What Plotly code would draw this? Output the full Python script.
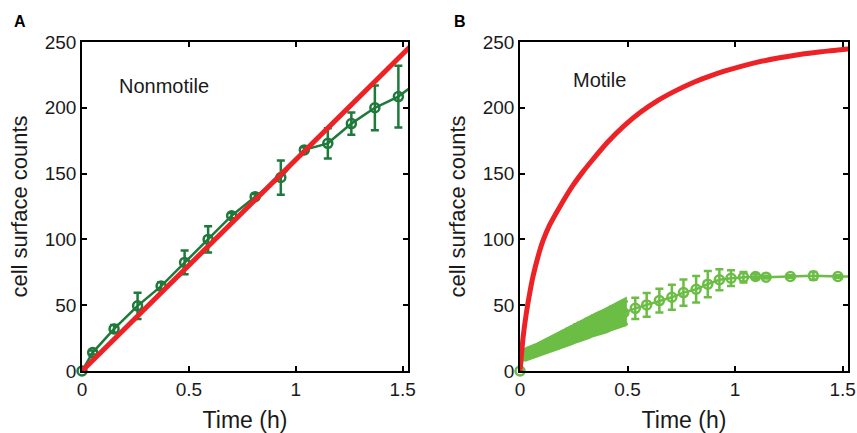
import plotly.graph_objects as go

# ---------------- Data ----------------
# Panel A (Nonmotile)
a_time = [0, 0.05, 0.15, 0.26, 0.37, 0.48, 0.59, 0.70, 0.81, 0.93, 1.04, 1.15, 1.26, 1.37, 1.48]
a_counts = [0, 14, 32, 49.5, 64.5, 82.5, 100, 118, 132.5, 147, 168, 173, 188, 200, 208.5]
a_err = [0, 1.5, 3, 10, 3, 9, 10, 2, 2, 13, 2, 11.5, 8.5, 17, 23.5]
a_tail_time = [1.48, 1.59]
a_tail_counts = [208.5, 222]
a_model_time = [0, 1.6]
a_model_counts = [0, 257]

# Panel B (Motile) - densely sampled early part
b_dense_time = [0.017, 0.033, 0.05, 0.067, 0.083, 0.1, 0.117, 0.133, 0.15, 0.167, 0.183, 0.2,
                0.217, 0.233, 0.25, 0.267, 0.283, 0.3, 0.317, 0.333, 0.35, 0.367, 0.383, 0.4,
                0.417, 0.433, 0.45, 0.467, 0.483]
b_dense_counts = [12.0, 13.4, 14.5, 15.4, 16.4, 17.4, 18.4, 19.4, 20.5, 21.7, 23.0, 24.4,
                  25.6, 27.0, 28.1, 29.5, 30.6, 31.8, 33.0, 34.2, 35.3, 36.4, 37.3, 38.4,
                  39.6, 40.8, 42.0, 43.1, 44.3]
b_dense_err = [3, 3, 3, 3, 3, 3.5, 3.5, 4, 4, 4.5, 4.5, 5,
               5, 5.5, 5.5, 6, 6, 6, 6.5, 6.5, 7, 7, 7, 7.5,
               7.5, 8, 8, 8.5, 8.5]
# Panel B - sparse later part
b_sparse_time = [0.536, 0.589, 0.648, 0.706, 0.76, 0.819, 0.873, 0.927, 0.981, 1.039, 1.095,
                 1.144, 1.257, 1.364, 1.478]
b_sparse_counts = [47.6, 50.2, 53.5, 56.0, 59.6, 62.1, 66.0, 69.3, 70.5, 71.3, 71.8,
                   71.3, 71.8, 72.3, 71.8]
b_sparse_err = [8, 9, 9, 9.5, 10, 10, 10, 8, 6, 4, 2, 1, 1, 3, 1]
b_start_time = [0]
b_start_counts = [0]
b_tail_time = [1.478, 1.59]
b_tail_counts = [71.8, 72]
b_model_time = [0, 0.006, 0.014, 0.029, 0.045, 0.06, 0.084, 0.107, 0.138, 0.184, 0.246, 0.293,
                0.33, 0.408, 0.485, 0.563, 0.64, 0.718, 0.795, 0.873, 0.95, 1.028, 1.1, 1.2,
                1.3, 1.4, 1.53]
b_model_counts = [0, 11, 25, 43.5, 59, 71.5, 87, 99, 111, 124.5, 141, 151.5,
                  159, 174, 186.5, 197, 205.5, 212.5, 218.5, 223.5, 227.8, 231.5, 234.5, 237.8,
                  240.5, 242.6, 244.8]

x_ticks = [0, 0.5, 1, 1.5]
x_tick_labels = ["0", "0.5", "1", "1.5"]
y_ticks = [0, 50, 100, 150, 200, 250]

# ---------------- Styles ----------------
DARK_GREEN = "#1d7a3b"
LIGHT_GREEN = "#6cbd45"
RED = "#ec2227"
TXT = "#1a1a1a"
FONT = "Liberation Sans, Arial, Helvetica, sans-serif"
W, H = 857, 433

fig = go.Figure()

# ---- Panel A ----
fig.add_trace(go.Scatter(x=a_tail_time, y=a_tail_counts, mode="lines",
                         line=dict(color=DARK_GREEN, width=2.5), cliponaxis=True,
                         xaxis="x", yaxis="y", showlegend=False, hoverinfo="skip"))
fig.add_trace(go.Scatter(x=a_time, y=a_counts, mode="lines+markers",
                         line=dict(color=DARK_GREEN, width=2.5),
                         marker=dict(symbol="circle-open", size=9, color=DARK_GREEN,
                                     line=dict(width=2.5, color=DARK_GREEN)),
                         error_y=dict(type="data", array=a_err, color=DARK_GREEN,
                                      thickness=2.5, width=4),
                         cliponaxis=False, xaxis="x", yaxis="y", showlegend=False))
fig.add_trace(go.Scatter(x=a_model_time, y=a_model_counts, mode="lines",
                         line=dict(color=RED, width=5), cliponaxis=True,
                         xaxis="x", yaxis="y", showlegend=False))

# ---- Panel B ----
# filled envelope of the dense error bars (built from the dense arrays)
band_x = b_dense_time + b_dense_time[::-1]
band_y = [c + e for c, e in zip(b_dense_counts, b_dense_err)] + \
         [c - e for c, e in zip(b_dense_counts, b_dense_err)][::-1]
fig.add_trace(go.Scatter(x=band_x, y=band_y, mode="lines", fill="toself",
                         fillcolor=LIGHT_GREEN, line=dict(color=LIGHT_GREEN, width=6),
                         xaxis="x2", yaxis="y2", showlegend=False, hoverinfo="skip"))
fig.add_trace(go.Scatter(x=b_tail_time, y=b_tail_counts, mode="lines",
                         line=dict(color=LIGHT_GREEN, width=2.5), cliponaxis=True,
                         xaxis="x2", yaxis="y2", showlegend=False, hoverinfo="skip"))
all_b_time = b_start_time + b_dense_time + b_sparse_time
all_b_counts = b_start_counts + b_dense_counts + b_sparse_counts
all_b_err = [0] + b_dense_err + b_sparse_err
fig.add_trace(go.Scatter(x=all_b_time, y=all_b_counts, mode="lines+markers",
                         line=dict(color=LIGHT_GREEN, width=2.5),
                         marker=dict(symbol="circle-open", size=9, color=LIGHT_GREEN,
                                     line=dict(width=2.5, color=LIGHT_GREEN)),
                         error_y=dict(type="data", array=all_b_err, color=LIGHT_GREEN,
                                      thickness=2.5, width=4),
                         cliponaxis=False, xaxis="x2", yaxis="y2", showlegend=False))
fig.add_trace(go.Scatter(x=b_model_time, y=b_model_counts, mode="lines",
                         line=dict(color=RED, width=5, shape="spline", smoothing=0.6),
                         cliponaxis=True, xaxis="x2", yaxis="y2", showlegend=False))

axis_common = dict(
    showline=True, linecolor="black", linewidth=1.5, mirror="ticks",
    ticks="inside", ticklen=5, tickwidth=1.5, tickcolor="black",
    showgrid=False, zeroline=False, automargin=False,
    tickfont=dict(family=FONT, size=19, color=TXT),
)


def xaxis(dom, anchor):
    return dict(axis_common, domain=dom, anchor=anchor, range=[0, 1.525],
                tickvals=x_ticks, ticktext=x_tick_labels,
                title=dict(text="Time (h)", font=dict(family=FONT, size=23, color=TXT),
                           standoff=14))


def yaxis(dom, anchor):
    return dict(axis_common, domain=dom, anchor=anchor, range=[0, 250],
                tickvals=y_ticks,
                title=dict(text="cell surface counts",
                           font=dict(family=FONT, size=22, color=TXT), standoff=11))


fig.update_layout(
    width=W, height=H,
    margin=dict(l=0, r=0, t=0, b=0, autoexpand=False),
    paper_bgcolor="white", plot_bgcolor="white",
    xaxis=xaxis([82 / W, 408 / W], "y"),
    yaxis=yaxis([(H - 371) / H, (H - 42) / H], "x"),
    xaxis2=xaxis([520 / W, 848 / W], "y2"),
    yaxis2=yaxis([(H - 371) / H, (H - 42) / H], "x2"),
    annotations=[
        dict(text="<b>A</b>", x=12 / W, y=1 - 22 / H, xref="paper", yref="paper",
             xanchor="left", yanchor="middle", showarrow=False,
             font=dict(family=FONT, size=16, color="black")),
        dict(text="<b>B</b>", x=452 / W, y=1 - 22 / H, xref="paper", yref="paper",
             xanchor="left", yanchor="middle", showarrow=False,
             font=dict(family=FONT, size=16, color="black")),
        dict(text="Nonmotile", x=117 / W, y=1 - 86 / H, xref="paper", yref="paper",
             xanchor="left", yanchor="middle", showarrow=False,
             font=dict(family=FONT, size=20, color=TXT)),
        dict(text="Motile", x=571 / W, y=1 - 80 / H, xref="paper", yref="paper",
             xanchor="left", yanchor="middle", showarrow=False,
             font=dict(family=FONT, size=20, color=TXT)),
    ],
)

fig.write_html("out.html", config={"displayModeBar": False},
               post_script="document.body.style.margin='0';document.body.style.padding='0';")
